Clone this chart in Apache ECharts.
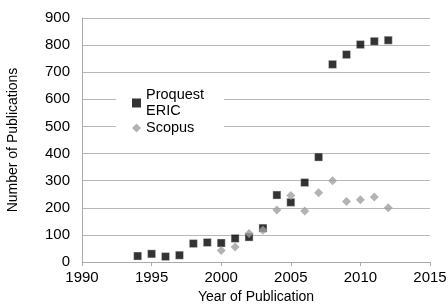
<!DOCTYPE html>
<html>
<head>
<meta charset="utf-8">
<script src="https://cdn.jsdelivr.net/npm/echarts@6/dist/echarts.min.js"></script>
<style>
    html, body { margin: 0; padding: 0; background: #fff; }
    #chart { width: 448px; height: 304px; }
</style>
</head>
<body>
<div id="chart"></div>
<script>
    // data
    var proquestYears = [1994, 1995, 1996, 1997, 1998, 1999, 2000, 2001, 2002, 2003, 2004, 2005, 2006, 2007, 2008, 2009, 2010, 2011, 2012];
    var proquestCounts = [22, 30, 20, 25, 68, 72, 70, 87, 92, 125, 247, 220, 293, 387, 729, 765, 802, 814, 818];
    var scopusYears = [2000, 2001, 2002, 2003, 2004, 2005, 2006, 2007, 2008, 2009, 2010, 2011, 2012];
    var scopusCounts = [42, 55, 105, 117, 192, 245, 188, 255, 300, 223, 230, 240, 200];

    function pairs(xs, ys) {
        return xs.map(function (x, i) { return [x, ys[i]]; });
    }

    var font = 'Liberation Sans, Arial, sans-serif';
    var myChart = echarts.init(document.getElementById('chart'));
    var option = {
        animation: false,
        grid: { left: 82, right: 18, top: 18, bottom: 42, outerBoundsMode: 'none' },
        legend: {
            orient: 'vertical',
            left: 116,
            top: 84,
            backgroundColor: '#fff',
            padding: [3, 20, 3, 16],
            itemGap: 1,
            itemWidth: 9,
            itemHeight: 9,
            textStyle: { fontFamily: font, fontSize: 14.5, color: '#000', lineHeight: 16 },
            data: [
                { name: 'Proquest\nERIC', icon: 'rect', itemStyle: { color: '#000', borderWidth: 0 } },
                { name: 'Scopus', icon: 'diamond', itemStyle: { color: '#a0a0a0' } }
            ]
        },
        xAxis: {
            type: 'value',
            min: 1990, max: 2015, interval: 5,
            name: 'Year of Publication',
            nameLocation: 'middle',
            nameGap: 28,
            nameTextStyle: { fontFamily: font, fontSize: 14, color: '#000' },
            axisLine: { lineStyle: { color: '#aaa' } },
            axisTick: { show: true, inside: false, length: 4, lineStyle: { color: '#aaa' } },
            axisLabel: {
                fontFamily: font, fontSize: 15, color: '#000', margin: 8,
                formatter: function (v) { return String(v); }
            },
            splitLine: { show: false }
        },
        yAxis: {
            type: 'value',
            min: 0, max: 900, interval: 100,
            name: 'Number of Publications',
            nameLocation: 'middle',
            nameGap: 62,
            nameTextStyle: { fontFamily: font, fontSize: 14, color: '#000' },
            axisLine: { show: true, lineStyle: { color: '#aaa' } },
            axisTick: { show: false },
            axisLabel: { fontFamily: font, fontSize: 15, color: '#000', margin: 12 },
            splitLine: { lineStyle: { color: '#b8b8b8' } }
        },
        series: [
            {
                name: 'Proquest\nERIC',
                type: 'scatter',
                symbol: 'rect',
                symbolSize: 8,
                itemStyle: { color: '#000', borderColor: '#e0e0e0', borderWidth: 0.5 },
                data: pairs(proquestYears, proquestCounts)
            },
            {
                name: 'Scopus',
                type: 'scatter',
                symbol: 'diamond',
                symbolSize: 9,
                itemStyle: { color: '#a0a0a0' },
                data: pairs(scopusYears, scopusCounts)
            }
        ]
    };
    myChart.setOption(option, true);
</script>
</body>
</html>
